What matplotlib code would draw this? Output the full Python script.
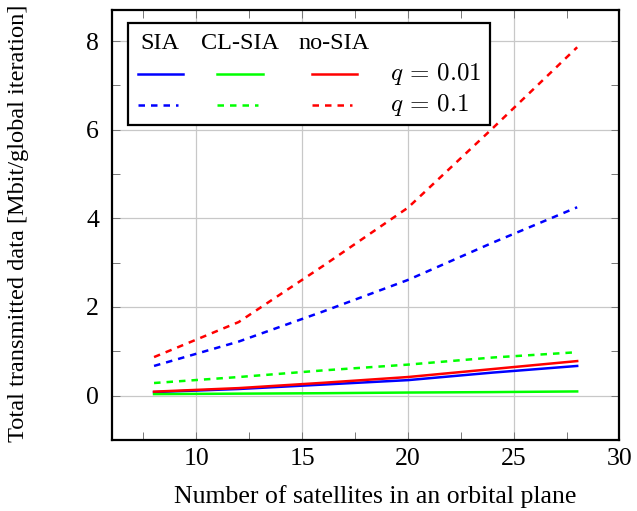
import matplotlib
matplotlib.use("Agg")
import matplotlib.pyplot as plt
from matplotlib.lines import Line2D
from matplotlib.patches import Rectangle

plt.rcParams["font.family"] = ["Liberation Serif", "DejaVu Serif"]
plt.rcParams["mathtext.fontset"] = "cm"

# ---- data ----
n_sat = [8, 12, 16, 20, 24, 28]

sia_q001 = [0.08, 0.15, 0.25, 0.35, 0.52, 0.67]
clsia_q001 = [0.035, 0.045, 0.055, 0.07, 0.08, 0.095]
nosia_q001 = [0.09, 0.17, 0.29, 0.42, 0.60, 0.78]

sia_q01 = [0.67, 1.22, 1.90, 2.61, 3.45, 4.25]
clsia_q01 = [0.285, 0.42, 0.57, 0.70, 0.86, 0.98]
nosia_q01 = [0.87, 1.66, 2.93, 4.24, 6.03, 7.86]

methods = ["SIA", "CL-SIA", "no-SIA"]
colors = ["#0000ff", "#00ff00", "#ff0000"]
q_labels = [r"$q\,=\,0.01$", r"$q\,=\,0.1$"]

FS = 18.5      # axis labels / ticks
LFS = 17.5     # legend headers
LW = 1.8
DASH = (2.6, 2.4)

fig = plt.figure(figsize=(6.37, 5.11), dpi=100)
ax = fig.add_axes([0.1754, 0.139, 0.7971, 0.8414])

solid = [sia_q001, clsia_q001, nosia_q001]
dashed = [sia_q01, clsia_q01, nosia_q01]
for c, ys in zip(colors, dashed):
    ax.plot(n_sat, ys, color=c, lw=LW, dashes=DASH, zorder=3)
for c, ys in zip(colors, solid):
    ax.plot(n_sat, ys, color=c, lw=LW, zorder=3)

ax.set_xlim(6, 30)
ax.set_ylim(-0.76, 8.70)
ax.set_xticks([10, 15, 20, 25, 30])
ax.set_xticks([7.5, 12.5, 17.5, 22.5, 27.5], minor=True)
ax.set_yticks([0, 2, 4, 6, 8])
ax.set_yticks([-1, 1, 3, 5, 7], minor=True)
ax.grid(True, which="major", color="#c8c8c8", lw=0.9, zorder=0)
ax.tick_params(which="both", direction="in", top=True, right=True,
               length=6, width=0.7, color="#777777", labelsize=FS)
ax.tick_params(axis="x", pad=6)
ax.tick_params(axis="y", pad=9)
for s in ax.spines.values():
    s.set_linewidth(1.6)

ax.set_xlabel("Number of satellites in an orbital plane", fontsize=FS, va="top")
ax.xaxis.set_label_coords(0.5195, -0.105)
ax.set_ylabel("Total transmitted data [Mbit/global iteration]", fontsize=17.6,
              va="center")
ax.yaxis.set_label_coords(-0.1845, 0.5035)

# ---- legend: column headers, line samples, q labels ----
T = ax.transAxes
ax.add_patch(Rectangle((0.0327, 0.7326), 0.7123, 0.2364, transform=T,
                       facecolor="white", edgecolor="black", lw=1.6, zorder=5))
head_x = [0.0951, 0.2527, 0.4378]
seg_x = [(0.0524, 0.141), (0.208, 0.2974), (0.395, 0.4837)]
row_y = [0.8505, 0.779]
for name, hx in zip(methods, head_x):
    ax.text(hx, 0.9226, name, transform=T, ha="center", va="center",
            fontsize=LFS, zorder=6)
for c, (x0, x1) in zip(colors, seg_x):
    ax.add_line(Line2D([x0, x1], [row_y[0]] * 2, transform=T, color=c,
                       lw=LW, zorder=6))
    ax.add_line(Line2D([x0, x1 - 0.01], [row_y[1]] * 2, transform=T, color=c,
                       lw=LW, dashes=DASH, zorder=6))
for lab, ry in zip(q_labels, row_y):
    ax.text(0.548, ry, lab, transform=T, ha="left", va="center",
            fontsize=FS - 0.5, zorder=6)

fig.savefig("out.png", dpi=100)
